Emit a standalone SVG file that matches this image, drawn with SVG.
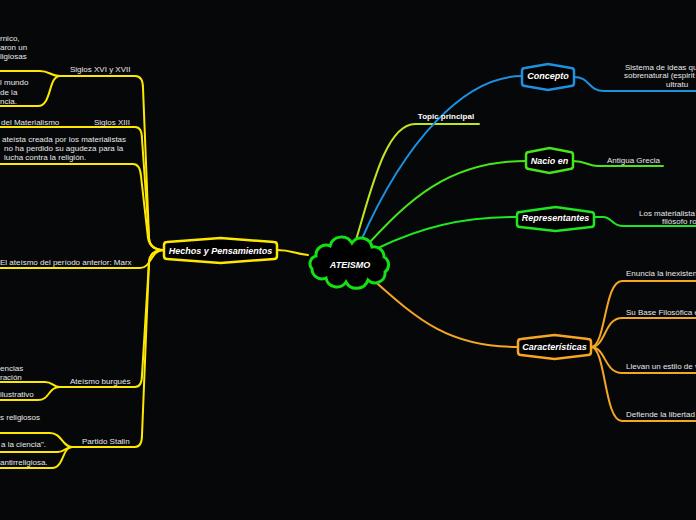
<svg xmlns="http://www.w3.org/2000/svg" width="696" height="520" viewBox="0 0 696 520">
<style>
.bg{fill:#060709}
.ln{fill:none;stroke-width:2;stroke-linecap:round}
.y{stroke:#ffe800}
.yg{stroke:#bde620}
.bl{stroke:#1e90e0}
.g1{stroke:#48e41c}
.g2{stroke:#1ee622}
.or{stroke:#f5a623}
.node{fill:#000;stroke-width:2.5}
.lbl{font-family:"Liberation Sans",Arial,sans-serif;font-size:9px;font-weight:bold;font-style:italic;fill:#fff;text-anchor:middle}
.t{font-family:"Liberation Sans",Arial,sans-serif;font-size:8px;fill:#e8e8e8}
.tb{font-family:"Liberation Sans",Arial,sans-serif;font-size:8px;font-weight:bold;fill:#fff}
</style>
<rect class="bg" x="0" y="0" width="696" height="520"/>
<g id="connectors">
<path class="ln yg" d="M355,243 C370,195 385,124 415,124 L479,124"/>
<path class="ln bl" d="M360,243 C405,140 465,76 522,76"/>
<path class="ln g1" d="M368,244 C405,205 445,161 526,161"/>
<path class="ln g2" d="M378,248 C420,228 460,217 517,217"/>
<path class="ln or" d="M370,277 C420,322 450,347 518,347"/>
<path class="ln y" d="M277,250 C292,250 295,254 308,255"/>
<path class="ln bl" d="M574,77 C590,77 588,91 604,91 L696,91"/>
<path class="ln g1" d="M573,161 C586,161 588,166 598,166 L663,166"/>
<path class="ln g2" d="M594,217 L603,217 C612,217 612,226 623,226 L696,226"/>
<path class="ln or" d="M591,347 C606,347 604,281 622,281 L696,281"/>
<path class="ln or" d="M591,347 C606,347 604,318 622,318 L696,318"/>
<path class="ln or" d="M591,347 C606,347 604,373 622,373 L696,373"/>
<path class="ln or" d="M591,347 C606,347 604,421 622,421 L696,421"/>
<path class="ln y" d="M60,76 L135,76 Q143,76 143,88 L149,238 Q150,250 164,250"/>
<path class="ln y" d="M0,127 L135,127 Q142,127 142,139 L149,238 Q150,250 164,250"/>
<path class="ln y" d="M0,164 L133,164 Q140,164 141,176 L148,238 Q150,250 164,250"/>
<path class="ln y" d="M0,268 L140,268 C152,268 150,250 164,250"/>
<path class="ln y" d="M60,387 L135,387 Q142,387 142,375 L149,262 Q150,250 164,250"/>
<path class="ln y" d="M72,447 L135,447 Q142,447 142,435 L149,262 Q150,250 164,250"/>
<path class="ln y" d="M0,71 L40,71 C50,71 50,76 60,76"/>
<path class="ln y" d="M60,76 C48,76 52,106 38,106 L0,106"/>
<path class="ln y" d="M0,382 L45,382 C53,382 53,387 60,387"/>
<path class="ln y" d="M60,387 C48,387 50,400 38,400 L0,400"/>
<path class="ln y" d="M0,433 L50,433 C62,433 62,447 72,447"/>
<path class="ln y" d="M0,452 L58,452 C65,452 65,447 72,447"/>
<path class="ln y" d="M0,468 L52,468 C64,468 62,447 72,447"/>
</g>
<g id="ateismo">
<path d="M316,256 A10,10 0 0 1 330,246 A12,12 0 0 1 352,243 A11,11 0 0 1 372,247 A10,10 0 0 1 384,257 A9,9 0 0 1 385,272 A10,10 0 0 1 368,280 A12,12 0 0 1 346,282 A11,11 0 0 1 326,278 A10,10 0 0 1 312,269 A8,8 0 0 1 316,256 Z" fill="#000" stroke="#14e014" stroke-width="3"/>
<text class="lbl" x="350" y="267.5" font-size="10">ATEISMO</text>
</g>
<g id="topic-principal">
<text class="tb" x="446" y="119" text-anchor="middle">Topic principal</text>
</g>
<g id="concepto">
<path class="node" stroke="#1e90e0" d="M525,68 L548,64 L571,68 Q574,68 574,71 L574,83 Q574,86 571,86 L548,90 L525,86 Q522,86 522,83 L522,71 Q522,68 525,68 Z"/>
<text class="lbl" x="548" y="79">Concepto</text>
</g>
<g id="concepto-text">
<text class="t" x="625" y="69.5">Sistema de ideas qu</text>
<text class="t" x="624" y="78">sobrenatural (espirit</text>
<text class="t" x="666" y="86.5">ultratu</text>
</g>
<g id="nacio-en">
<path class="node" stroke="#48e41c" d="M529,152 L549.5,148 L570,152 Q573,152 573,155 L573,166 Q573,169 570,169 L549.5,173 L529,169 Q526,169 526,166 L526,155 Q526,152 529,152 Z"/>
<text class="lbl" x="549.5" y="164">Nacio en</text>
</g>
<g id="antigua-grecia">
<text class="t" x="607" y="163">Antigua Grecia</text>
</g>
<g id="representantes">
<path class="node" stroke="#1ee622" d="M520,212 L555.5,207 L591,212 Q594,212 594,215 L594,224 Q594,227 591,227 L555.5,231 L520,227 Q517,227 517,224 L517,215 Q517,212 520,212 Z"/>
<text class="lbl" x="555.5" y="220.5">Representantes</text>
</g>
<g id="representantes-text">
<text class="t" x="639" y="216">Los materialista</text>
<text class="t" x="662" y="224">filósofo ro</text>
</g>
<g id="caracteristicas">
<path class="node" stroke="#f5a623" d="M521,339 L554.5,335 L588,339 Q591,339 591,342 L591,352 Q591,355 588,355 L554.5,359 L521,355 Q518,355 518,352 L518,342 Q518,339 521,339 Z"/>
<text class="lbl" x="554.5" y="350">Características</text>
</g>
<g id="caracteristicas-items">
<text class="t" x="626" y="276">Enuncia la inexisten</text>
<text class="t" x="626" y="315">Su Base Filosófica e</text>
<text class="t" x="626" y="369">Llevan un estilo de v</text>
<text class="t" x="626" y="417">Defiende la libertad</text>
</g>
<g id="hechos">
<path class="node" stroke="#ffe800" d="M167,242 L220.5,238 L274,242 Q277,242 277,245 L277,256 Q277,259 274,259 L220.5,263 L167,259 Q164,259 164,256 L164,245 Q164,242 167,242 Z"/>
<text class="lbl" x="220.5" y="253.5">Hechos y Pensamientos</text>
</g>
<g id="siglos-xvi">
<text class="t" x="70" y="72">Siglos XVI y XVII</text>
<text class="t" x="0" y="41">rnico,</text>
<text class="t" x="0" y="50">aron un</text>
<text class="t" x="0" y="59">ligiosas</text>
<text class="t" x="0" y="85">l mundo</text>
<text class="t" x="0" y="94.5">de la</text>
<text class="t" x="0" y="104">ncia.</text>
</g>
<g id="siglos-xiii">
<text class="t" x="94" y="124.5">Siglos XIII</text>
<text class="t" x="1" y="124.5">del Materialismo</text>
<text class="t" x="2" y="142">ateísta creada por los materialistas</text>
<text class="t" x="4" y="151">no ha perdido su agudeza para la</text>
<text class="t" x="4" y="160">lucha contra la religión.</text>
</g>
<g id="marx">
<text class="t" x="0" y="265">El ateísmo del período anterior: Marx</text>
</g>
<g id="ateismo-burgues">
<text class="t" x="70" y="384">Ateísmo burgués</text>
<text class="t" x="0" y="371">encias</text>
<text class="t" x="0" y="380">ración</text>
<text class="t" x="0" y="397">ilustrativo</text>
</g>
<g id="partido-stalin">
<text class="t" x="82" y="443.5">Partido Stalin</text>
<text class="t" x="0" y="420">s religiosos</text>
<text class="t" x="1" y="447">a la ciencia".</text>
<text class="t" x="0" y="465">antirreligiosa.</text>
</g>
</svg>
